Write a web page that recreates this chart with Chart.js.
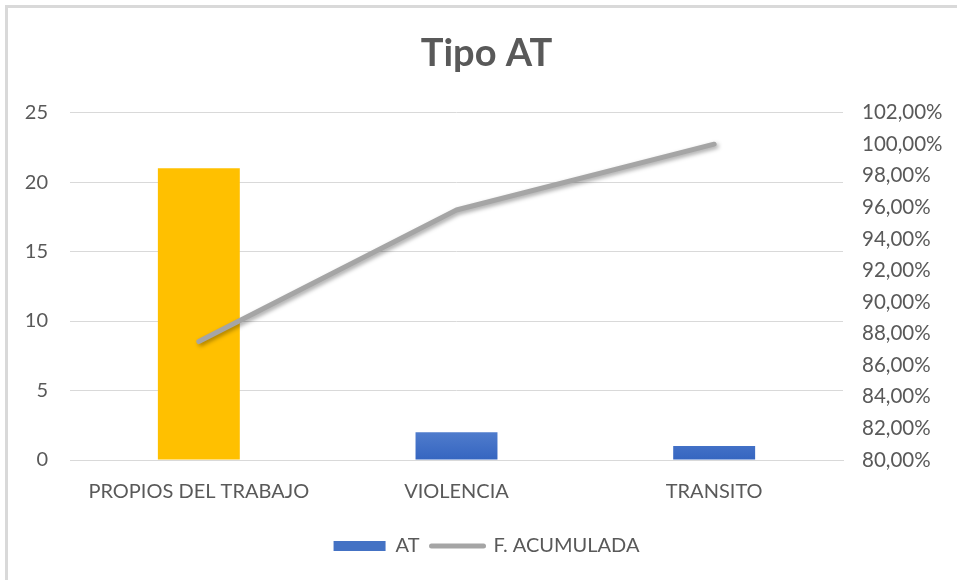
<!DOCTYPE html>
<html>
<head>
<meta charset="utf-8">
<script src="https://cdn.jsdelivr.net/npm/chart.js@4.4.1/dist/chart.umd.min.js"></script>
<style>
    body { margin: 0; background: #fff; overflow: hidden; }
    #wrap { position: relative; width: 957px; height: 580px; }
    #frame {
        position: absolute; left: 5px; top: 5px; width: 1000px; height: 1000px;
        border-left: 3px solid #d9d9d9; border-top: 3px solid #d9d9d9;
        pointer-events: none;
    }
</style>
</head>
<body>
<div id="wrap">
    <canvas id="myChart" width="957" height="580"></canvas>
    <div id="frame"></div>
</div>
<script>
// chart values
const categories = ['PROPIOS DEL TRABAJO', 'VIOLENCIA', 'TRANSITO'];
const at_values = [21, 2, 1];
const acumulada = [87.5, 95.83, 100];
const left_ticks = [0, 5, 10, 15, 20, 25];
const right_ticks = [80, 82, 84, 86, 88, 90, 92, 94, 96, 98, 100, 102];

const text_color = '#595959';
const font_name = 'Lato, "Open Sans", sans-serif';

function bar_color(context) {
    // first bar is highlighted, the rest get the excel blue gradient
    if (context.dataIndex === 0) return '#FFC000';
    const area = context.chart.chartArea;
    if (!area) return '#4472C4';
    const g = context.chart.ctx.createLinearGradient(0, area.bottom - 40, 0, area.bottom);
    g.addColorStop(0, '#5b86d2');
    g.addColorStop(1, '#3565c0');
    return g;
}

// soft shadow under the line, like the excel original
const lineShadow = {
    id: 'lineShadow',
    beforeDatasetDraw(chart, args) {
        if (args.index !== 1) return;
        const ctx = chart.ctx;
        ctx.save();
        ctx.shadowColor = 'rgba(0,0,0,0.35)';
        ctx.shadowBlur = 4;
        ctx.shadowOffsetX = 2;
        ctx.shadowOffsetY = 2;
    },
    afterDatasetDraw(chart, args) {
        if (args.index !== 1) return;
        chart.ctx.restore();
    }
};

let config = {
    type: 'bar',
    data: {
        labels: categories,
        datasets: [
            {
                label: 'AT',
                data: at_values,
                backgroundColor: bar_color,
                borderWidth: 0,
                categoryPercentage: 1,
                barPercentage: 0.318,
                yAxisID: 'y',
                order: 1
            },
            {
                type: 'line',
                label: 'F. ACUMULADA',
                data: acumulada,
                borderColor: '#A5A5A5',
                borderWidth: 5,
                borderCapStyle: 'round',
                borderJoinStyle: 'round',
                pointRadius: 0,
                tension: 0,
                yAxisID: 'y1',
                order: 0
            }
        ]
    },
    options: {
        responsive: false,
        animation: false,
        layout: { padding: { left: 16, right: 0, top: 0, bottom: 14 } },
        scales: {
            x: {
                grid: { display: false, drawTicks: false },
                border: { color: '#d9d9d9', width: 1 },
                ticks: {
                    color: text_color,
                    font: { family: font_name, size: 20 },
                    padding: 20,
                    maxRotation: 0
                },
                afterFit: function(scale) { scale.height = 64; }
            },
            y: {
                position: 'left',
                min: 0,
                max: 25,
                grid: { color: '#d9d9d9', lineWidth: 1, drawTicks: false },
                border: { display: false },
                afterBuildTicks: function(scale) {
                    scale.ticks = left_ticks.map(v => ({ value: v }));
                },
                ticks: {
                    color: text_color,
                    font: { family: font_name, size: 20 },
                    padding: 22
                },
                afterFit: function(scale) { scale.width = 54; }
            },
            y1: {
                position: 'right',
                min: 80,
                max: 102,
                grid: { display: false, drawTicks: false },
                border: { display: false },
                afterBuildTicks: function(scale) {
                    scale.ticks = right_ticks.map(v => ({ value: v }));
                },
                ticks: {
                    color: text_color,
                    font: { family: font_name, size: 20.5 },
                    padding: 19,
                    callback: function(value) {
                        return value.toFixed(2).replace('.', ',') + '%';
                    }
                },
                afterFit: function(scale) { scale.width = 114; }
            }
        },
        plugins: {
            title: {
                display: true,
                text: 'Tipo AT',
                color: text_color,
                font: { family: font_name, size: 38, weight: 'bold' },
                padding: { top: 31, bottom: 36 }
            },
            legend: {
                display: true,
                position: 'bottom',
                labels: {
                    color: text_color,
                    font: { family: font_name, size: 20 },
                    usePointStyle: true,
                    pointStyleWidth: 52,
                    boxHeight: 10,
                    padding: 12,
                    generateLabels: function() {
                        return [
                            { text: 'AT', fillStyle: '#4472C4', strokeStyle: '#4472C4',
                              lineWidth: 0, pointStyle: 'rect', datasetIndex: 0, fontColor: text_color },
                            { text: 'F. ACUMULADA', fillStyle: '#A5A5A5', strokeStyle: '#A5A5A5',
                              lineWidth: 5, lineCap: 'round', pointStyle: 'line', datasetIndex: 1, fontColor: text_color }
                        ];
                    }
                }
            },
            tooltip: { enabled: false }
        }
    },
    plugins: [lineShadow]
};

const ctx = document.getElementById('myChart');
window.chart = new Chart(ctx, config);
</script>
</body>
</html>
